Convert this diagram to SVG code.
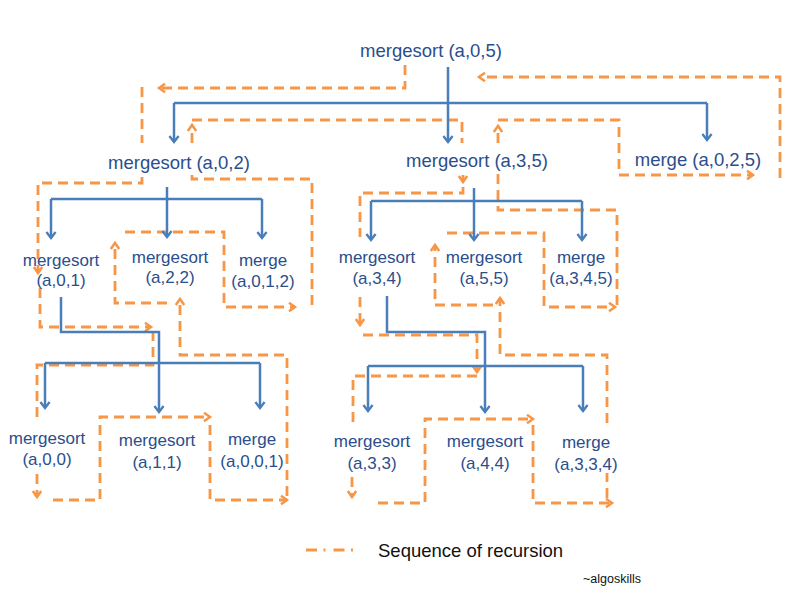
<svg xmlns="http://www.w3.org/2000/svg" width="791" height="600" viewBox="0 0 791 600">
<defs>
<style>
.bg{fill:#ffffff}
.lbl{font-family:"Liberation Sans",Arial,sans-serif;fill:#2B4E8C;text-anchor:middle}
.big{font-size:18.5px}
.sm{font-size:17px}
.tree{fill:none;stroke:#4A7EBB;stroke-width:2.5}
.seq{fill:none;stroke:#F79646;stroke-width:2.8;stroke-dasharray:10 6}
.legend{fill:none;stroke:#F79646;stroke-width:3.2;stroke-dasharray:11 6.5 2 8}
.legtxt{font-family:"Liberation Sans",Arial,sans-serif;fill:#111111}
</style>
<marker id="ab" markerUnits="userSpaceOnUse" markerWidth="14" markerHeight="14" viewBox="-7 -7 14 14" refX="0" refY="0" orient="auto" overflow="visible">
<path d="M-6,-4.6 L0,0 L-6,4.6" fill="none" stroke="#4A7EBB" stroke-width="2.3"/>
</marker>
<marker id="ao" markerUnits="userSpaceOnUse" markerWidth="14" markerHeight="14" viewBox="-7 -7 14 14" refX="0" refY="0" orient="auto" overflow="visible">
<path d="M-6,-4.2 L0,0 L-6,4.2" fill="none" stroke="#F79646" stroke-width="2.5"/>
</marker>
</defs>
<rect class="bg" x="0" y="0" width="791" height="600"/>

<g id="recursion-sequence">
<path class="seq" d="M405,65 V88 H159" marker-end="url(#ao)"/>
<path class="seq" d="M142,87 V143"/>
<path class="seq" d="M142,177 V183 H38 V273" marker-end="url(#ao)"/>
<path class="seq" d="M40,288 V327 H151" marker-end="url(#ao)"/>
<path class="seq" d="M153,331 V365 H37 V420"/>
<path class="seq" d="M37,474 V497" marker-end="url(#ao)"/>
<path class="seq" d="M53,500 H100 V417 H210" marker-end="url(#ao)"/>
<path class="seq" d="M210,425 V500 H287" marker-end="url(#ao)"/>
<path class="seq" d="M287,496 V355 H180 V299" marker-end="url(#ao)"/>
<path class="seq" d="M167,303 H115 V243" marker-end="url(#ao)"/>
<path class="seq" d="M125,232 H224 V307 H295" marker-end="url(#ao)"/>
<path class="seq" d="M312,305 V179 H192 V175"/>
<path class="seq" d="M192,143 V125" marker-end="url(#ao)"/>
<path class="seq" d="M192,120 H462 V143"/>
<path class="seq" d="M463,175 V182" marker-end="url(#ao)"/>
<path class="seq" d="M463,187 V193 H360 V237"/>
<path class="seq" d="M360,297 V325" marker-end="url(#ao)"/>
<path class="seq" d="M363,335 H477 V372" marker-end="url(#ao)"/>
<path class="seq" d="M477,376 H353 V423"/>
<path class="seq" d="M352,477 V497" marker-end="url(#ao)"/>
<path class="seq" d="M378,503 H425 V419 H533" marker-end="url(#ao)"/>
<path class="seq" d="M533,425 V503 H612" marker-end="url(#ao)"/>
<path class="seq" d="M607,498 V473"/>
<path class="seq" d="M607,423 V355 H500 V298" marker-end="url(#ao)"/>
<path class="seq" d="M493,305 H435 V245" marker-end="url(#ao)"/>
<path class="seq" d="M447,233 H544 V307 H615" marker-end="url(#ao)"/>
<path class="seq" d="M617,305 V210 H498 V173"/>
<path class="seq" d="M498,143 V126" marker-end="url(#ao)"/>
<path class="seq" d="M498,120 H619 V175 H753" marker-end="url(#ao)"/>
<path class="seq" d="M780,178 V77 H479" marker-end="url(#ao)"/>
</g>

<g id="connectors">
<path class="tree" d="M448,67 V142" marker-end="url(#ab)"/>
<path class="tree" d="M174,103 H707"/>
<path class="tree" d="M174,103 V142" marker-end="url(#ab)"/>
<path class="tree" d="M707,103 V140" marker-end="url(#ab)"/>
<path class="tree" d="M167,187 V237" marker-end="url(#ab)"/>
<path class="tree" d="M51,199 H262"/>
<path class="tree" d="M51,199 V238" marker-end="url(#ab)"/>
<path class="tree" d="M262,199 V238" marker-end="url(#ab)"/>
<path class="tree" d="M474,188 V240" marker-end="url(#ab)"/>
<path class="tree" d="M371,201 H582"/>
<path class="tree" d="M371,201 V240" marker-end="url(#ab)"/>
<path class="tree" d="M582,201 V240" marker-end="url(#ab)"/>
<path class="tree" d="M61,297 V332 H159 V412" marker-end="url(#ab)"/>
<path class="tree" d="M45,363 H260"/>
<path class="tree" d="M45,363 V408" marker-end="url(#ab)"/>
<path class="tree" d="M260,363 V408" marker-end="url(#ab)"/>
<path class="tree" d="M387,296 V332 H485 V412" marker-end="url(#ab)"/>
<path class="tree" d="M368,366 H583"/>
<path class="tree" d="M368,366 V411" marker-end="url(#ab)"/>
<path class="tree" d="M583,366 V411" marker-end="url(#ab)"/>
</g>

<g id="n-ms-0-5"><text class="lbl big" x="431" y="56.5">mergesort (a,0,5)</text></g>
<g id="n-ms-0-2"><text class="lbl big" x="179" y="168.5">mergesort (a,0,2)</text></g>
<g id="n-ms-3-5"><text class="lbl big" x="477" y="166.5">mergesort (a,3,5)</text></g>
<g id="n-merge-0-2-5"><text class="lbl big" x="698" y="165.5">merge (a,0,2,5)</text></g>

<g id="n-ms-0-1"><text class="lbl sm" x="61" y="266">mergesort</text><text class="lbl sm" x="61" y="286">(a,0,1)</text></g>
<g id="n-ms-2-2"><text class="lbl sm" x="170" y="263">mergesort</text><text class="lbl sm" x="170" y="283">(a,2,2)</text></g>
<g id="n-merge-0-1-2"><text class="lbl sm" x="263" y="266">merge</text><text class="lbl sm" x="263" y="287">(a,0,1,2)</text></g>
<g id="n-ms-3-4"><text class="lbl sm" x="377" y="263">mergesort</text><text class="lbl sm" x="377" y="284">(a,3,4)</text></g>
<g id="n-ms-5-5"><text class="lbl sm" x="484" y="263">mergesort</text><text class="lbl sm" x="484" y="284">(a,5,5)</text></g>
<g id="n-merge-3-4-5"><text class="lbl sm" x="581" y="263">merge</text><text class="lbl sm" x="581" y="284">(a,3,4,5)</text></g>

<g id="n-ms-0-0"><text class="lbl sm" x="47" y="444">mergesort</text><text class="lbl sm" x="47" y="465">(a,0,0)</text></g>
<g id="n-ms-1-1"><text class="lbl sm" x="157" y="446">mergesort</text><text class="lbl sm" x="157" y="468">(a,1,1)</text></g>
<g id="n-merge-0-0-1"><text class="lbl sm" x="252" y="445">merge</text><text class="lbl sm" x="252" y="467">(a,0,0,1)</text></g>
<g id="n-ms-3-3"><text class="lbl sm" x="372" y="447">mergesort</text><text class="lbl sm" x="372" y="469">(a,3,3)</text></g>
<g id="n-ms-4-4"><text class="lbl sm" x="485" y="447">mergesort</text><text class="lbl sm" x="485" y="469">(a,4,4)</text></g>
<g id="n-merge-3-3-4"><text class="lbl sm" x="586" y="448">merge</text><text class="lbl sm" x="586" y="470">(a,3,3,4)</text></g>

<g id="legend">
<path class="legend" d="M306,550 H353"/>
<text class="legtxt" x="378" y="556.5" font-size="18.5">Sequence of recursion</text>
<text class="legtxt" x="583" y="582.5" font-size="12.5">~algoskills</text>
</g>
</svg>
